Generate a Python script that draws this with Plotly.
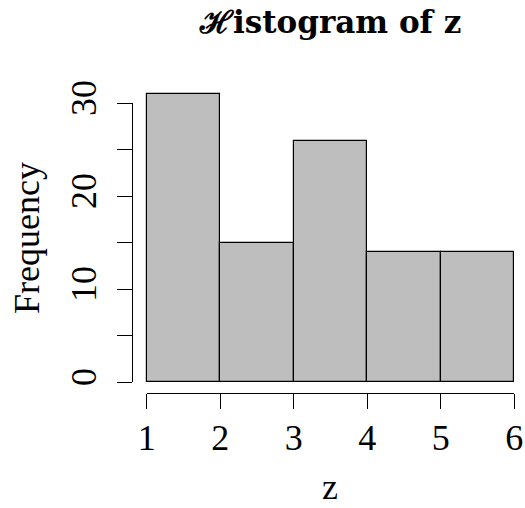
import plotly.graph_objects as go

# ---- data ----
breaks = [1, 2, 3, 4, 5, 6]
counts = [31, 15, 26, 14, 14]
x_ticks = [1, 2, 3, 4, 5, 6]
y_ticks = [0, 5, 10, 15, 20, 25, 30]
y_tick_text = ["0", "", "10", "", "20", "", "30"]

W, H = 525, 508
# pixel placement of the data frame
x_px0, x_px1 = 146.7, 514.3   # x = 1 .. 6
y_px0, y_px1 = 382.3, 103.3   # y = 0 .. 30
xaxis_line_px = 393.3
yaxis_line_px = 132.3

xs = (x_px1 - x_px0) / (breaks[-1] - breaks[0])
ys = (y_px0 - y_px1) / (y_ticks[-1] - y_ticks[0])
x_range = [breaks[0] - x_px0 / xs, breaks[0] + (W - x_px0) / xs]
y_range = [-(H - y_px0) / ys, y_px0 / ys]

mids = [(a + b) / 2 for a, b in zip(breaks[:-1], breaks[1:])]
widths = [b - a for a, b in zip(breaks[:-1], breaks[1:])]

FONT = "Liberation Serif"
FS = 36

fig = go.Figure()
fig.add_trace(go.Bar(
    x=mids, y=counts, width=widths,
    marker=dict(color="#BEBEBE", line=dict(color="black", width=1.2)),
    hoverinfo="skip", showlegend=False,
))
# dummy trace to carry the R-style detached axes
fig.add_trace(go.Scatter(
    x=[breaks[0]], y=[0], xaxis="x2", yaxis="y2", mode="markers",
    marker=dict(opacity=0), hoverinfo="skip", showlegend=False,
))

fig.update_layout(
    width=W, height=H,
    margin=dict(l=0, r=0, t=0, b=0, pad=0, autoexpand=False),
    paper_bgcolor="white", plot_bgcolor="rgba(0,0,0,0)",
    bargap=0,
    xaxis=dict(domain=[0, 1], range=x_range, visible=False, fixedrange=True),
    yaxis=dict(domain=[0, 1], range=y_range, visible=False, fixedrange=True),
    xaxis2=dict(
        domain=[x_px0 / W, x_px1 / W], range=[breaks[0], breaks[-1]],
        anchor="free", position=1 - xaxis_line_px / H,
        showline=True, linecolor="black", linewidth=1.2,
        ticks="outside", ticklen=15, tickwidth=1.2, tickcolor="black",
        tickvals=x_ticks, ticktext=[str(v) for v in x_ticks],
        tickfont=dict(family=FONT, size=FS, color="black"),
        ticklabelstandoff=-3,
        showgrid=False, zeroline=False, fixedrange=True,
    ),
    yaxis2=dict(
        domain=[1 - y_px0 / H, 1 - y_px1 / H], range=[y_ticks[0], y_ticks[-1]],
        anchor="free", position=yaxis_line_px / W,
        showline=True, linecolor="black", linewidth=1.2,
        ticks="outside", ticklen=15, tickwidth=1.2, tickcolor="black",
        tickvals=y_ticks, ticktext=y_tick_text, tickangle=-90,
        tickfont=dict(family=FONT, size=FS, color="black"),
        ticklabelstandoff=7,
        showgrid=False, zeroline=False, fixedrange=True,
    ),
    annotations=[
        dict(text="<b>ℋistogram of z</b>", x=330 / W, y=1 - 22 / H,
             xref="paper", yref="paper", showarrow=False,
             xanchor="center", yanchor="middle",
             font=dict(family="DejaVu Serif", size=31, color="black")),
        dict(text="z", x=330 / W, y=1 - 487 / H,
             xref="paper", yref="paper", showarrow=False,
             xanchor="center", yanchor="middle",
             font=dict(family=FONT, size=FS, color="black")),
        dict(text="Frequency", x=27 / W, y=1 - 238 / H, textangle=-90,
             xref="paper", yref="paper", showarrow=False,
             xanchor="center", yanchor="middle",
             font=dict(family=FONT, size=FS, color="black")),
    ],
)

fig.write_html("out.html")
